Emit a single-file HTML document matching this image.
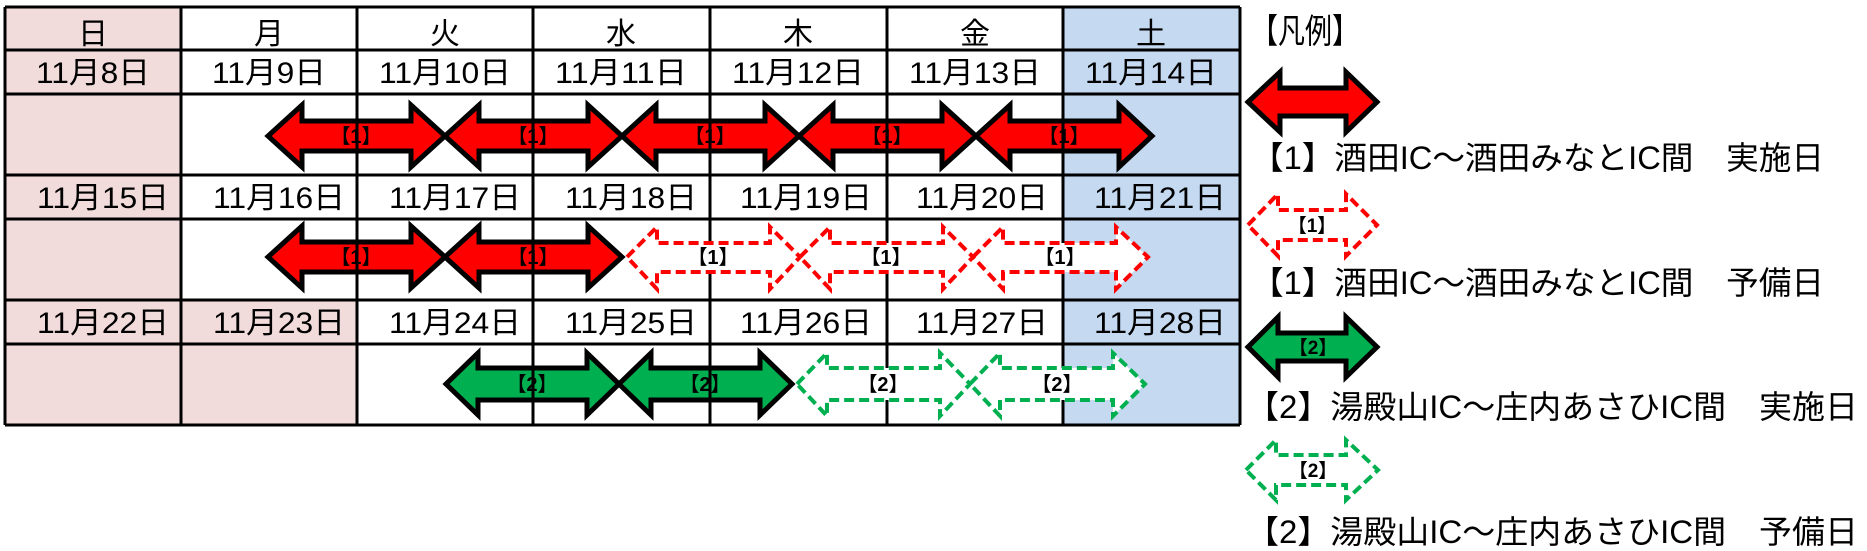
<!DOCTYPE html>
<html><head><meta charset="utf-8"><style>
html,body{margin:0;padding:0;background:#fff;}
svg{display:block;}
text{font-family:"Liberation Sans","Noto Sans CJK JP",sans-serif;}
</style></head><body>
<svg width="1867" height="551" viewBox="0 0 1867 551" xmlns="http://www.w3.org/2000/svg">
<!-- cell fills -->
<rect x="5" y="7" width="176" height="418" fill="#f2dcdb"/>
<rect x="181" y="300" width="176" height="125" fill="#f2dcdb"/>
<rect x="1063" y="7" width="177" height="418" fill="#c5d9f1"/>

<!-- solid arrows (under grid lines) -->
<g stroke="#000" stroke-width="5" stroke-linejoin="miter">
<g fill="#ff0000">
<path d="M268,136 L302,105 L302,121 L411,121 L411,105 L445,136 L411,167 L411,151 L302,151 L302,167 Z"/>
<path d="M445,136 L479,105 L479,121 L588,121 L588,105 L622,136 L588,167 L588,151 L479,151 L479,167 Z"/>
<path d="M622,136 L656,105 L656,121 L765,121 L765,105 L799,136 L765,167 L765,151 L656,151 L656,167 Z"/>
<path d="M799,136 L833,105 L833,121 L942,121 L942,105 L976,136 L942,167 L942,151 L833,151 L833,167 Z"/>
<path d="M976,136 L1010,105 L1010,121 L1119,121 L1119,105 L1152,136 L1119,167 L1119,151 L1010,151 L1010,167 Z"/>
<path d="M268,257 L302,226 L302,242 L411,242 L411,226 L445,257 L411,288 L411,272 L302,272 L302,288 Z"/>
<path d="M445,257 L479,226 L479,242 L588,242 L588,226 L622,257 L588,288 L588,272 L479,272 L479,288 Z"/>
</g>
<g fill="#00b050">
<path d="M446,384 L478,353 L478,368 L587,368 L587,353 L619,384 L587,415 L587,400 L478,400 L478,415 Z"/>
<path d="M619,384 L651,353 L651,368 L760,368 L760,353 L792,384 L760,415 L760,400 L651,400 L651,415 Z"/>
</g>
</g>

<!-- grid lines -->
<g stroke="#000" stroke-width="3">
<line x1="5" y1="7" x2="1240" y2="7"/>
<line x1="5" y1="50" x2="1240" y2="50"/>
<line x1="5" y1="94" x2="1240" y2="94"/>
<line x1="5" y1="175" x2="1240" y2="175"/>
<line x1="5" y1="219" x2="1240" y2="219"/>
<line x1="5" y1="300" x2="1240" y2="300"/>
<line x1="5" y1="344" x2="1240" y2="344"/>
<line x1="5" y1="425" x2="1240" y2="425"/>
<line x1="5" y1="7" x2="5" y2="425"/>
<line x1="181" y1="7" x2="181" y2="425"/>
<line x1="357" y1="7" x2="357" y2="425"/>
<line x1="533" y1="7" x2="533" y2="425"/>
<line x1="710" y1="7" x2="710" y2="425"/>
<line x1="887" y1="7" x2="887" y2="425"/>
<line x1="1063" y1="7" x2="1063" y2="425"/>
<line x1="1240" y1="7" x2="1240" y2="425"/>
</g>

<!-- dashed arrows -->
<g stroke-width="4" stroke-dasharray="10 5" fill="#fff">
<g stroke="#ff0000">
<path d="M627,257 L657,227 L657,243 L770,243 L770,227 L800,257 L770,289 L770,272 L657,272 L657,289 Z"/>
<path d="M800,257 L830,227 L830,243 L943,243 L943,227 L973,257 L943,289 L943,272 L830,272 L830,289 Z"/>
<path d="M973,257 L1003,227 L1003,243 L1116,243 L1116,227 L1148,257 L1116,289 L1116,272 L1003,272 L1003,289 Z"/>
</g>
<g stroke="#00b050">
<path d="M797,384 L827,353 L827,368 L940,368 L940,353 L970,384 L940,416 L940,400 L827,400 L827,416 Z"/>
<path d="M970,384 L1000,353 L1000,368 L1113,368 L1113,353 L1145,384 L1113,416 L1113,400 L1000,400 L1000,416 Z"/>
</g>
</g>

<!-- header texts -->
<g font-size="30" text-anchor="middle" fill="#000">
<text x="93" y="44">日</text>
<text x="269" y="44">月</text>
<text x="445" y="44">火</text>
<text x="621" y="44">水</text>
<text x="798" y="44">木</text>
<text x="975" y="44">金</text>
<text x="1151" y="44">土</text>
</g>
<g font-size="30" fill="#000" text-anchor="middle">
<text x="93" y="83" textLength="114" lengthAdjust="spacingAndGlyphs">11月8日</text>
<text x="269" y="83" textLength="114" lengthAdjust="spacingAndGlyphs">11月9日</text>
<text x="445" y="83" textLength="132" lengthAdjust="spacingAndGlyphs">11月10日</text>
<text x="621" y="83" textLength="132" lengthAdjust="spacingAndGlyphs">11月11日</text>
<text x="798" y="83" textLength="132" lengthAdjust="spacingAndGlyphs">11月12日</text>
<text x="975" y="83" textLength="132" lengthAdjust="spacingAndGlyphs">11月13日</text>
<text x="1151" y="83" textLength="132" lengthAdjust="spacingAndGlyphs">11月14日</text>
<text x="103" y="208" textLength="132" lengthAdjust="spacingAndGlyphs">11月15日</text>
<text x="279" y="208" textLength="132" lengthAdjust="spacingAndGlyphs">11月16日</text>
<text x="455" y="208" textLength="132" lengthAdjust="spacingAndGlyphs">11月17日</text>
<text x="631" y="208" textLength="132" lengthAdjust="spacingAndGlyphs">11月18日</text>
<text x="806" y="208" textLength="132" lengthAdjust="spacingAndGlyphs">11月19日</text>
<text x="982" y="208" textLength="132" lengthAdjust="spacingAndGlyphs">11月20日</text>
<text x="1160" y="208" textLength="132" lengthAdjust="spacingAndGlyphs">11月21日</text>
<text x="103" y="333" textLength="132" lengthAdjust="spacingAndGlyphs">11月22日</text>
<text x="279" y="333" textLength="132" lengthAdjust="spacingAndGlyphs">11月23日</text>
<text x="455" y="333" textLength="132" lengthAdjust="spacingAndGlyphs">11月24日</text>
<text x="631" y="333" textLength="132" lengthAdjust="spacingAndGlyphs">11月25日</text>
<text x="806" y="333" textLength="132" lengthAdjust="spacingAndGlyphs">11月26日</text>
<text x="982" y="333" textLength="132" lengthAdjust="spacingAndGlyphs">11月27日</text>
<text x="1160" y="333" textLength="132" lengthAdjust="spacingAndGlyphs">11月28日</text>
</g>

<!-- arrow labels -->
<g font-size="20" font-weight="bold" text-anchor="middle" fill="#000">
<text x="356" y="143">【1】</text>
<text x="533" y="143">【1】</text>
<text x="710" y="143">【1】</text>
<text x="887" y="143">【1】</text>
<text x="1064" y="143">【1】</text>
<text x="356" y="264">【1】</text>
<text x="533" y="264">【1】</text>
<text x="713" y="264">【1】</text>
<text x="886" y="264">【1】</text>
<text x="1060" y="264">【1】</text>
<text x="532" y="391">【2】</text>
<text x="705" y="391">【2】</text>
<text x="883" y="391">【2】</text>
<text x="1057" y="391">【2】</text>
</g>

<!-- legend -->
<text x="1251" y="43" font-size="34" textLength="108" lengthAdjust="spacingAndGlyphs">【凡例】</text>
<path d="M1248,102 L1280,72 L1280,88 L1346,88 L1346,72 L1377,102 L1346,132 L1346,116 L1280,116 L1280,132 Z" fill="#ff0000" stroke="#000" stroke-width="5"/>
<text x="1251" y="169" font-size="32" textLength="573" lengthAdjust="spacingAndGlyphs">【1】酒田IC～酒田みなとIC間　実施日</text>
<path d="M1248,225 L1278,194 L1278,210 L1346,210 L1346,194 L1377,225 L1346,256 L1346,240 L1278,240 L1278,256 Z" fill="#fff" stroke="#ff0000" stroke-width="4" stroke-dasharray="10 5"/>
<text x="1312" y="232" font-size="19" font-weight="bold" text-anchor="middle">【1】</text>
<text x="1251" y="294" font-size="32" textLength="573" lengthAdjust="spacingAndGlyphs">【1】酒田IC～酒田みなとIC間　予備日</text>
<path d="M1248,347 L1278,317 L1278,333 L1346,333 L1346,317 L1377,347 L1346,377 L1346,361 L1278,361 L1278,377 Z" fill="#00b050" stroke="#000" stroke-width="5"/>
<text x="1313" y="354" font-size="19" font-weight="bold" text-anchor="middle">【2】</text>
<text x="1246" y="418" font-size="32" textLength="612" lengthAdjust="spacingAndGlyphs">【2】湯殿山IC～庄内あさひIC間　実施日</text>
<path d="M1246,470 L1276,440 L1276,455 L1346,455 L1346,440 L1378,470 L1346,500 L1346,485 L1276,485 L1276,500 Z" fill="#fff" stroke="#00b050" stroke-width="4" stroke-dasharray="10 5"/>
<text x="1313" y="477" font-size="19" font-weight="bold" text-anchor="middle">【2】</text>
<text x="1246" y="543" font-size="32" textLength="612" lengthAdjust="spacingAndGlyphs">【2】湯殿山IC～庄内あさひIC間　予備日</text>
</svg>
</body></html>
